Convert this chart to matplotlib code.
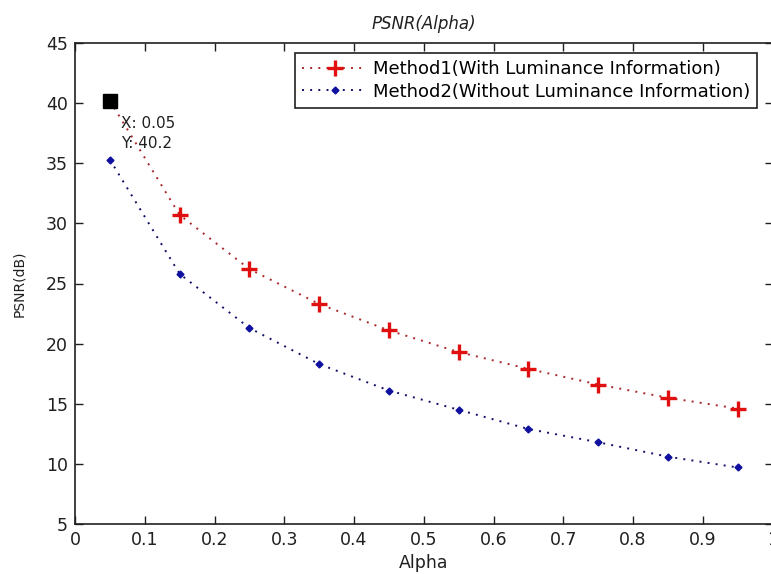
import matplotlib
matplotlib.use("Agg")
import matplotlib.pyplot as plt

plt.rcParams['font.family'] = ['DejaVu Sans']

alpha = [0.05, 0.15, 0.25, 0.35, 0.45, 0.55, 0.65, 0.75, 0.85, 0.95]
psnr_method1 = [40.2, 30.7, 26.2, 23.3, 21.1, 19.3, 17.9, 16.6, 15.5, 14.6]
psnr_method2 = [35.3, 25.8, 21.3, 18.3, 16.1, 14.5, 12.9, 11.8, 10.6, 9.7]
label1 = 'Method1(With Luminance Information)'
label2 = 'Method2(Without Luminance Information)'
xticks = [0, 0.1, 0.2, 0.3, 0.4, 0.5, 0.6, 0.7, 0.8, 0.9, 1]
xticklabels = ['0', '0.1', '0.2', '0.3', '0.4', '0.5', '0.6', '0.7', '0.8', '0.9', '1']
yticks = [5, 10, 15, 20, 25, 30, 35, 40, 45]

W, H = 771, 574
fig = plt.figure(figsize=(W / 100, H / 100), dpi=100)
ax_left, ax_right, ax_top, ax_bottom = 75, 772.5, 43, 524
ax = fig.add_axes([ax_left / W, 1 - ax_bottom / H,
                   (ax_right - ax_left) / W, (ax_bottom - ax_top) / H])

dots = (0, (1, 3.2))
# the first point of method 1 carries the data tip marker instead of a cross
ax.plot(alpha, psnr_method1, linestyle=dots, color='#a82828', lw=1.4,
        marker='+', markersize=11, markeredgewidth=2.4, markeredgecolor='#e01010',
        markevery=list(range(1, len(alpha))), label=label1)
ax.plot(alpha, psnr_method2, linestyle=dots, color='#10106a', lw=1.4,
        marker='D', markersize=3.5, markerfacecolor='#1010a0', markeredgecolor='#1010a0',
        label=label2)

# data tip
ax.plot([alpha[0]], [psnr_method1[0]], marker='s', markersize=9.5, color='black',
        linestyle='none', zorder=5)
ax.text(alpha[0] + 0.016, psnr_method1[0] - 1.25,
        f'X: {alpha[0]:.2f}\nY: {psnr_method1[0]}', fontsize=11,
        va='top', ha='left', linespacing=1.4, color='#202020')

ax.set_xlim(0, 1)
ax.set_ylim(5, 45)
ax.set_xticks(xticks)
ax.set_xticklabels(xticklabels)
ax.set_yticks(yticks)
ax.tick_params(direction='in', length=6, width=1, top=True, right=True,
               labelsize=12.5, colors='#202020', pad=5)
for s in ax.spines.values():
    s.set_linewidth(1.2)
    s.set_color('#202020')

ax.set_title('PSNR(Alpha)', fontsize=12, style='italic', pad=10, color='#202020')
ax.set_xlabel('Alpha', fontsize=12.5, labelpad=4, color='#202020')
ax.set_ylabel('PSNR(dB)', fontsize=10, labelpad=14, color='#202020')

leg = ax.legend(loc='upper right',
                bbox_to_anchor=((757 - ax_left) / (ax_right - ax_left),
                                1 - 10 / (ax_bottom - ax_top)),
                prop={'size': 13}, numpoints=1, handlelength=3.6, handletextpad=0.3,
                borderpad=0.4, labelspacing=0.25, fancybox=False, framealpha=1,
                edgecolor='#202020', borderaxespad=0)
leg.get_frame().set_linewidth(1.2)

fig.savefig('out.png', dpi=100)
